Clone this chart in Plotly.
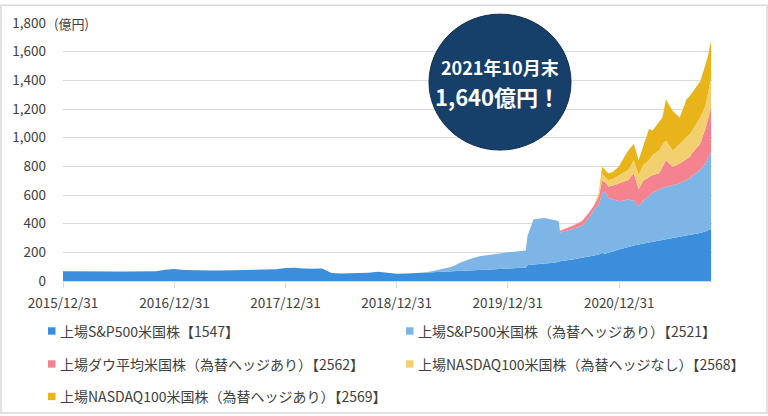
"""上場米国株ETF 純資産残高の推移 — 積み上げ面グラフ"""
import plotly.graph_objects as go

# ============================================================
# データ（億円）: 画像から読み取った月末／途中時点の値
# ============================================================
DATES = [
    "2015-12-31",
    "2016-01-31", "2016-02-29", "2016-03-31", "2016-04-30", "2016-05-31", "2016-06-30",
    "2016-07-31", "2016-08-31", "2016-09-30", "2016-10-31", "2016-11-30", "2016-12-31",
    "2017-01-31", "2017-02-28", "2017-03-31", "2017-04-30", "2017-05-31", "2017-06-30",
    "2017-07-31", "2017-08-31", "2017-09-30", "2017-10-31", "2017-11-30", "2017-12-31",
    "2018-01-31", "2018-02-28", "2018-03-31", "2018-04-30", "2018-05-31", "2018-06-30",
    "2018-07-31", "2018-08-31", "2018-09-30", "2018-10-31", "2018-11-30", "2018-12-31",
    "2019-01-31", "2019-02-28", "2019-03-31", "2019-04-30", "2019-05-31", "2019-06-30",
    "2019-07-31", "2019-08-31", "2019-09-30", "2019-10-31", "2019-11-30", "2019-12-31",
    "2020-01-31", "2020-02-28", "2020-03-05", "2020-03-25", "2020-04-30", "2020-05-31",
    "2020-06-15", "2020-06-20", "2020-07-31", "2020-08-31", "2020-09-20", "2020-10-10",
    "2020-10-25", "2020-11-05", "2020-11-15", "2020-11-25", "2020-12-10", "2020-12-31",
    "2021-01-15", "2021-01-30", "2021-02-17", "2021-03-05", "2021-03-20", "2021-04-08",
    "2021-04-20", "2021-05-11", "2021-05-22", "2021-06-03", "2021-06-25", "2021-07-18",
    "2021-08-09", "2021-08-20", "2021-08-31", "2021-09-23", "2021-10-10", "2021-10-20",
    "2021-10-27", "2021-10-29",
]

# 上場S&P500米国株【1547】
S1547 = [
    68,
    67, 65, 66, 66, 67, 66, 67, 67, 68, 68, 78, 84,
    76, 74, 74, 73, 74, 75, 75, 76, 76, 78, 82, 90,
    92, 88, 85, 88, 55, 52, 53, 55, 57, 64, 55, 50,
    52, 55, 58, 62, 66, 70, 74, 78, 82, 85, 87, 88,
    90, 92, 110, 115, 121, 128, 135,
    138, 150, 160, 168, 178, 185, 195, 190, 195, 205, 220,
    230, 240, 248, 255, 262, 270, 275, 282, 288, 292, 300, 308,
    318, 322, 327, 335, 345, 352, 358, 362,
]
# 上場S&P500米国株（為替ヘッジあり）【2521】
S2521 = [0] * 37 + [
    0, 0, 2, 8, 19, 30, 56, 77, 90, 97, 103, 112,
    115, 121, 206, 315, 319, 297, 284,
    201, 212, 225, 262, 321, 348, 415, 435, 385, 363, 336,
    332, 328, 312, 267, 298, 320, 340, 354, 360, 363, 368, 374,
    387, 394, 413, 439, 475, 508, 532, 538,
]
# 上場ダウ平均米国株（為替ヘッジあり）【2562】
S2562 = [0] * 56 + [
    11, 23, 34, 40, 31, 57, 90, 65, 79, 97, 126,
    133, 137, 191, 118, 140, 138, 125, 115, 152, 188, 129, 138,
    145, 150, 160, 183, 240, 270, 300, 309,
]
# 上場NASDAQ100米国株（為替ヘッジなし）【2568】
S2568 = [0] * 61 + [
    10, 45, 35, 46, 47, 58,
    65, 69, 92, 100, 110, 115, 140, 160, 150, 137, 114, 137,
    150, 159, 160, 183, 160, 190, 210, 206,
]
# 上場NASDAQ100米国株（為替ヘッジあり）【2569】
S2569 = [0] * 61 + [
    10, 52, 45, 46, 48, 60,
    100, 137, 114, 103, 130, 217, 170, 199, 190, 286, 275, 183,
    266, 265, 263, 252, 286, 260, 267, 225,
]

NAMES = [
    "上場S&P500米国株【1547】",
    "上場S&P500米国株（為替ヘッジあり）【2521】",
    "上場ダウ平均米国株（為替ヘッジあり）【2562】",
    "上場NASDAQ100米国株（為替ヘッジなし）【2568】",
    "上場NASDAQ100米国株（為替ヘッジあり）【2569】",
]
SERIES = [S1547, S2521, S2562, S2568, S2569]

TICK_DATES = ["2015-12-31", "2016-12-31", "2017-12-31", "2018-12-31", "2019-12-31", "2020-12-31"]
TICK_LABELS = ["2015/12/31", "2016/12/31", "2017/12/31", "2018/12/31", "2019/12/31", "2020/12/31"]

# ============================================================
# スタイル
# ============================================================
COLORS = ["#3a8edb", "#7db5e7", "#f5838f", "#f3d06f", "#e9b419"]
NAVY = "#163f6a"
TEXT = "#404040"
GRID = "#d9d9d9"
FONT = "Noto Sans CJK JP"

W, H = 768, 416
L, R, T, B = 63, 56, 19, 135
PW, PH = W - L - R, H - T - B


def px(x):
    """ピクセル x → paper 座標"""
    return (x - L) / PW


def py(y):
    """ピクセル y（上から）→ paper 座標"""
    return (H - B - y) / PH


def label(x, y, text, size, color=TEXT, xanchor="left", **kw):
    fig.add_annotation(x=px(x), y=py(y), xref="paper", yref="paper",
                       xanchor=xanchor, yanchor="middle", text=text, showarrow=False,
                       font=dict(size=size, color=color, family=FONT), **kw)


fig = go.Figure()

for name, vals, color in zip(NAMES, SERIES, COLORS):
    fig.add_trace(go.Scatter(
        x=DATES, y=vals, name=name, mode="lines", stackgroup="one",
        line=dict(width=0, color=color), fillcolor=color, showlegend=False,
        hovertemplate="%{x}<br>%{y:,}億円<extra>" + name + "</extra>"))

# ---- 外枠 ----
fig.add_shape(type="rect", xref="paper", yref="paper",
              x0=px(1), x1=px(W - 1), y0=py(H - 1), y1=py(1),
              line=dict(color=GRID, width=1.5), layer="below")

# ---- 単位ラベル ----
label(51, T, "(億円)", 13, bgcolor="white", borderpad=2)

# ---- 吹き出しの円 ----
fig.add_shape(type="circle", xref="paper", yref="paper",
              x0=px(429), x1=px(571), y0=py(148), y1=py(10),
              fillcolor=NAVY, line=dict(color="#0f2d4d", width=1))
label(500, 63.5, "<b>2021年10月末</b>", 18, color="white", xanchor="center")
label(497, 93.5, "<b>1,640億円！</b>", 22, color="white", xanchor="center")

# ---- 凡例（2列） ----
LEG_X = [48, 406]
LEG_Y = [331.5, 365, 398]
for i, (name, color) in enumerate(zip(NAMES, COLORS)):
    lx, ly = LEG_X[i % 2], LEG_Y[i // 2]
    fig.add_shape(type="rect", xref="paper", yref="paper",
                  x0=px(lx), x1=px(lx + 7.5), y0=py(ly + 4), y1=py(ly - 3.5),
                  fillcolor=color, line=dict(width=0))
    label(lx + 10, ly, name, 14)

fig.update_xaxes(type="date", range=["2015-12-31", "2021-11-01"],
                 tickvals=TICK_DATES, ticktext=TICK_LABELS,
                 ticks="outside", ticklen=6, tickcolor=GRID, tickwidth=1.3,
                 showline=True, linecolor=GRID, linewidth=1.3, showgrid=False,
                 ticklabelstandoff=4,
                 tickfont=dict(size=13.5, color=TEXT, family=FONT))
fig.update_yaxes(range=[0, 1800], dtick=200, tickformat=",",
                 showgrid=True, gridcolor=GRID, gridwidth=1.3,
                 zeroline=False, showline=False, ticklabelstandoff=16,
                 tickfont=dict(size=13.5, color=TEXT, family=FONT))

fig.update_layout(
    width=W, height=H,
    margin=dict(l=L, r=R, t=T, b=B),
    paper_bgcolor="white", plot_bgcolor="white",
    showlegend=False,
    font=dict(family=FONT, color=TEXT),
)

# body の既定余白(8px)を消して 768x416 にぴったり合わせる
fig.write_html("out.html", config={"displayModeBar": False},
               post_script="document.body.style.margin='0';")
